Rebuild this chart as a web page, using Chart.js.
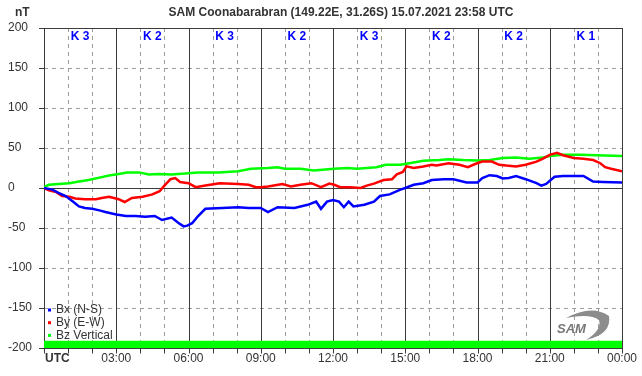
<!DOCTYPE html>
<html>
<head>
<meta charset="utf-8">
<script src="https://cdn.jsdelivr.net/npm/chart.js@4/dist/chart.umd.min.js"></script>
<style>
    body { margin: 0; background: #fff; }
    canvas { display: block; }
</style>
</head>
<body>
<canvas id="samChart" width="642" height="376"></canvas>
<script>
const chartTitle = "SAM Coonabarabran (149.22E, 31.26S) 15.07.2021 23:58 UTC";
const hourTicks = [0, 3, 6, 9, 12, 15, 18, 21, 24];
const hourLabels = ["UTC", "03:00", "06:00", "09:00", "12:00", "15:00", "18:00", "21:00", "00:00"];
const yTicks = [200, 150, 100, 50, 0, -50, -100, -150, -200];
const kIndex = [3, 2, 3, 2, 3, 2, 2, 1];
const seriesNames = ["Bx (N-S)", "By (E-W)", "Bz Vertical"];
const seriesColors = ["#0000ff", "#ff0000", "#00ff00"];

// [hour UTC, nT]
const bx = [[0,0],[0.35,-2],[0.6,-6],[0.9,-10],[1.2,-17],[1.45,-23],[1.7,-25],[2,-26],[2.3,-28],[2.55,-30],
    [3,-33],[3.4,-35],[3.8,-35],[4.2,-36],[4.6,-35],[4.9,-40],[5.3,-37],[5.6,-44],[5.8,-48],[5.95,-47],
    [6.15,-44],[6.4,-35],[6.7,-26],[7.4,-25],[8.06,-24],[8.5,-25],[9,-25],[9.3,-30],[9.7,-24],[10.4,-25],
    [10.95,-21],[11.3,-17],[11.5,-26],[11.75,-17],[12,-15],[12.25,-17],[12.45,-24],[12.65,-17],[12.85,-23],
    [13.3,-21],[13.7,-17],[13.95,-10],[14.35,-8],[14.8,-2],[15,0],[15.35,4],[15.75,6],[16.1,10],[16.6,11],
    [17,11],[17.55,7],[18,7],[18.2,12.5],[18.5,16],[18.8,15],[19.05,12],[19.3,12.5],[19.6,15],[20,11],
    [20.45,6],[20.65,3],[20.85,5],[21.2,14],[21.55,15],[22.4,15],[22.8,8],[23.2,7.5],[24,7]];
const by = [[0,0],[0.2,-3],[0.5,-5],[0.75,-10],[1.05,-11],[1.3,-13],[1.7,-14],[2.15,-14],[2.4,-12.5],[2.7,-11],
    [3.1,-14],[3.35,-17.5],[3.65,-12.5],[4.1,-11],[4.5,-8],[4.8,-4],[5,3],[5.25,11],[5.45,12.5],[5.65,7.5],
    [6,6],[6.3,1],[6.7,3],[7.3,6],[8.06,5],[8.5,4],[8.8,1],[9,1],[9.3,2],[9.9,5],[10.25,2],[10.65,4],
    [11.1,6],[11.5,1],[11.85,5.5],[12.05,4],[12.3,1],[12.7,1],[13.15,0],[13.4,3],[13.7,5.5],[14.1,10],
    [14.45,11],[14.65,17],[14.9,20],[15.05,27],[15.35,25],[15.75,27],[16.1,29],[16.3,28],[16.8,31],
    [17.25,29],[17.6,26],[17.9,30],[18.2,33],[18.6,33],[18.9,29],[19.2,28],[19.6,27],[20,29],[20.45,33],
    [20.7,36.5],[21,41.5],[21.3,44],[21.55,41],[22,37.5],[22.4,36.5],[22.8,35],[23.1,31],[23.3,26],
    [23.55,24],[24,21]];
const bz = [[0,1],[0.2,4],[0.6,5],[1.05,6],[1.45,8],[1.85,10],[2.3,13],[2.7,15.5],[3.1,17.5],[3.45,19.5],
    [3.95,19.5],[4.35,17],[4.75,17.5],[5.3,17],[5.85,18],[6.4,19.5],[7.25,19.5],[8.06,21],[8.6,24],[9.3,25],
    [9.7,26],[10,24],[10.65,24],[11.2,22],[12.05,24],[12.6,25],[13,24],[13.4,25],[13.8,26],[14.2,29],
    [14.8,29],[15.35,32],[15.75,34],[16.4,35],[16.8,36],[17.4,35],[18,34.5],[18.5,35],[19.05,37.5],
    [19.6,38],[20.15,36.5],[20.7,38],[21,40],[21.55,41.5],[22.25,41.5],[22.95,41],[24,40]];
// data availability bar along the bottom
const statusBar = [[0,-191],[24,-191]];

const toXY = arr => arr.map(p => ({ x: p[0], y: p[1] }));

const samDecor = {
    id: "samDecor",
    beforeDatasetsDraw(chart) {
        const ctx = chart.ctx, a = chart.chartArea;
        const sx = chart.scales.x, sy = chart.scales.y;
        ctx.save();
        ctx.lineWidth = 1;

        // dashed grid
        ctx.strokeStyle = "#9c9c9c";
        ctx.setLineDash([4, 4]);
        ctx.beginPath();
        for (let h = 1; h < 24; h++) {
            if (h % 3 === 0) continue;
            const x = Math.round(sx.getPixelForValue(h)) + 0.5;
            ctx.moveTo(x, a.top); ctx.lineTo(x, a.bottom);
        }
        yTicks.forEach(v => {
            if (v === 0 || Math.abs(v) === 200) return;
            const y = Math.round(sy.getPixelForValue(v)) + 0.5;
            ctx.moveTo(a.left, y); ctx.lineTo(a.right, y);
        });
        ctx.stroke();
        ctx.setLineDash([]);

        // solid lines every 3h, zero line, frame and ticks
        ctx.strokeStyle = "#3c3c3c";
        ctx.beginPath();
        hourTicks.forEach(h => {
            const x = Math.round(sx.getPixelForValue(h)) + 0.5;
            ctx.moveTo(x, a.top); ctx.lineTo(x, a.bottom);
        });
        const y0 = Math.round(sy.getPixelForValue(0)) + 0.5;
        ctx.moveTo(a.left, y0); ctx.lineTo(a.right, y0);
        const yTop = Math.round(a.top) + 0.5, yBot = Math.round(a.bottom) + 0.5;
        ctx.moveTo(a.left, yTop); ctx.lineTo(a.right + 1, yTop);
        ctx.moveTo(a.left, yBot); ctx.lineTo(a.right + 1, yBot);
        for (let h = 0; h <= 24; h++) {
            const x = Math.round(sx.getPixelForValue(h)) + 0.5;
            ctx.moveTo(x, yBot); ctx.lineTo(x, yBot + 5);
        }
        yTicks.forEach(v => {
            const y = Math.round(sy.getPixelForValue(v)) + 0.5;
            ctx.moveTo(a.left - 5, y); ctx.lineTo(a.left, y);
        });
        ctx.stroke();

        // texts
        ctx.fillStyle = "#333";
        ctx.textBaseline = "middle";
        ctx.font = "bold 12px 'Liberation Sans', Arial, sans-serif";
        ctx.textAlign = "center";
        ctx.fillText(chartTitle, 341, 13);
        ctx.textAlign = "left";
        ctx.fillText("nT", 15, 13);

        ctx.font = "12px 'Liberation Sans', Arial, sans-serif";
        yTicks.forEach(v => {
            ctx.fillText(String(v), 8, sy.getPixelForValue(v));
        });
        hourTicks.forEach((h, i) => {
            const x = sx.getPixelForValue(h);
            if (i === 0) {
                ctx.font = "bold 12px 'Liberation Sans', Arial, sans-serif";
                ctx.textAlign = "left";
                ctx.fillText(hourLabels[i], x + 1, 359);
                ctx.font = "12px 'Liberation Sans', Arial, sans-serif";
            } else {
                ctx.textAlign = "center";
                ctx.fillText(hourLabels[i], x, 359);
            }
        });

        // K indices
        ctx.fillStyle = "#0000ff";
        ctx.font = "bold 12px 'Liberation Sans', Arial, sans-serif";
        ctx.textAlign = "center";
        kIndex.forEach((k, i) => {
            ctx.fillText("K " + k, sx.getPixelForValue(i * 3 + 1.5), 37);
        });
        ctx.restore();
    },
    afterDatasetsDraw(chart) {
        const ctx = chart.ctx;
        ctx.save();
        // legend
        ctx.font = "12px 'Liberation Sans', Arial, sans-serif";
        ctx.textBaseline = "middle";
        ctx.textAlign = "left";
        seriesNames.forEach((name, i) => {
            const y = 310 + i * 12.7;
            ctx.fillStyle = seriesColors[i];
            ctx.fillRect(48, y - 1.5, 3, 3);
            ctx.fillStyle = "#333";
            ctx.fillText(name, 56, y);
        });

        // SAM logo
        ctx.fillStyle = "#8c8c8c";
        ctx.beginPath();
        ctx.moveTo(566, 318);
        ctx.quadraticCurveTo(592, 304, 609, 316);
        ctx.quadraticCurveTo(612, 334, 586, 340);
        ctx.quadraticCurveTo(602, 330, 599, 320);
        ctx.quadraticCurveTo(590, 313, 566, 318);
        ctx.fill();
        ctx.fillStyle = "#777";
        ctx.font = "italic bold 13px 'Liberation Sans', Arial, sans-serif";
        ctx.fillText("SAM", 557, 329);
        ctx.restore();
    }
};

new Chart(document.getElementById("samChart"), {
    type: "line",
    data: {
        datasets: [
            { label: seriesNames[0], data: toXY(bx), borderColor: seriesColors[0], borderWidth: 2.5 },
            { label: seriesNames[1], data: toXY(by), borderColor: seriesColors[1], borderWidth: 2.5 },
            { label: seriesNames[2], data: toXY(bz), borderColor: seriesColors[2], borderWidth: 2.5 },
            { label: "status", data: toXY(statusBar), borderWidth: 0, borderColor: "#00ff00",
              backgroundColor: "#00ff00", fill: "start" }
        ]
    },
    options: {
        responsive: false,
        animation: false,
        layout: { padding: { left: 44, right: 20, top: 28, bottom: 28 } },
        elements: { point: { radius: 0 }, line: { tension: 0 } },
        scales: {
            x: { type: "linear", min: 0, max: 24, display: false },
            y: { min: -200, max: 200, display: false }
        },
        plugins: { legend: { display: false }, tooltip: { enabled: false } }
    },
    plugins: [samDecor]
});
</script>
</body>
</html>
